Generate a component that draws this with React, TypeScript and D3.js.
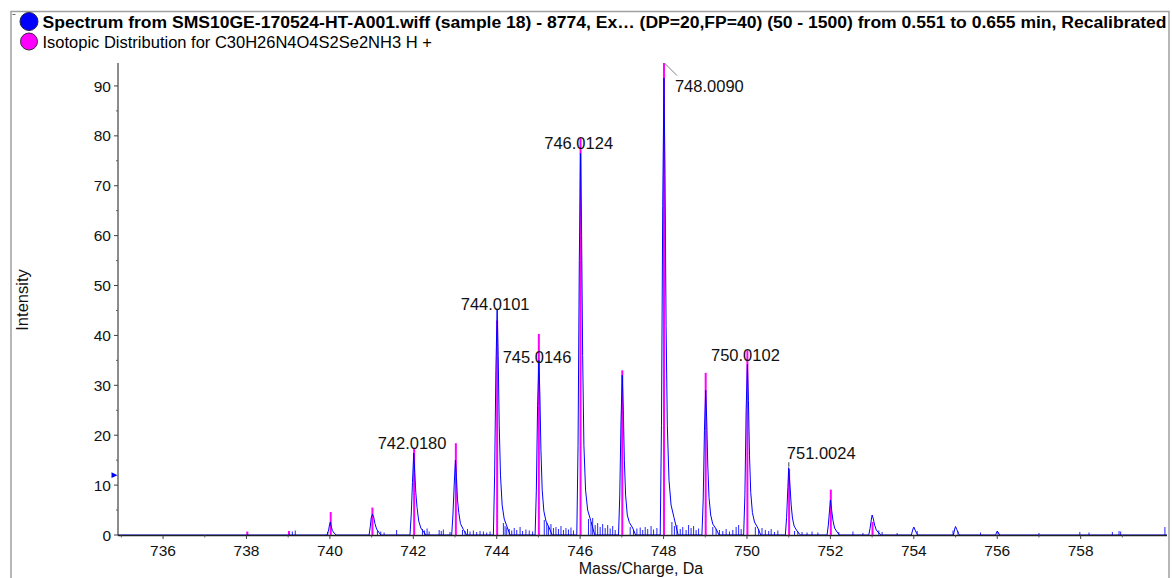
import React, { useEffect } from 'react';
import * as d3 from 'd3';

const W = 1172;
const H = 578;

// ---------- data ----------
const legendLabels = [
  'Spectrum from SMS10GE-170524-HT-A001.wiff (sample 18) - 8774, Ex… (DP=20,FP=40) (50 - 1500) from 0.551 to 0.655 min, Recalibrated',
  'Isotopic Distribution for C30H26N4O4S2Se2NH3 H +',
];
const seriesColors = ['#0000ff', '#ff00ff'];

const xDomain = [734.92, 760.07];
const yMaxValue = 94.6;

const xTicksMajor = [736, 738, 740, 742, 744, 746, 748, 750, 752, 754, 756, 758];
const xTicksMinor = [735, 737, 739, 741, 743, 745, 747, 749, 751, 753, 755, 757, 759];
const yTicksMajor = [0, 10, 20, 30, 40, 50, 60, 70, 80, 90];
const yTicksMinor = [5, 15, 25, 35, 45, 55, 65, 75, 85];

const xTitle = 'Mass/Charge, Da';
const yTitle = 'Intensity';
const thresholdMarker = 12;

// measured spectrum profile [m/z, intensity]
const spectrumProfile: [number, number][] = [
  [734.92, 0],
  [739.93, 0], [739.97, 1.0], [739.99, 2.0], [740.01, 2.6], [740.03, 1.8], [740.06, 0.9], [740.1, 0.4], [740.15, 0],
  [740.94, 0], [740.97, 1.8], [740.99, 3.4], [741.02, 4.2], [741.05, 3.6], [741.08, 2.3], [741.12, 1.2], [741.17, 0.6], [741.22, 0],
  [741.92, 0], [741.95, 4], [741.98, 10.5], [742.01, 16.4], [742.035, 12.5], [742.06, 8.5], [742.09, 5.5], [742.13, 2.8], [742.18, 1.4], [742.25, 0.6], [742.3, 0],
  [742.92, 0], [742.95, 4], [742.98, 10], [743.01, 15], [743.035, 11.5], [743.06, 7], [743.09, 4.5], [743.13, 2.3], [743.2, 1.1], [743.28, 0],
  [743.92, 0], [743.95, 12], [743.98, 33], [744.01, 45.2], [744.035, 36], [744.06, 22], [744.09, 12], [744.13, 6], [744.18, 3.2], [744.25, 1.6], [744.32, 0],
  [744.92, 0], [744.95, 9], [744.98, 26], [745.01, 35], [745.035, 28], [745.06, 17], [745.09, 9], [745.13, 4.8], [745.18, 2.8], [745.25, 1.6], [745.33, 0],
  [745.92, 0], [745.95, 18], [745.98, 55], [746.01, 76.5], [746.035, 60], [746.06, 36], [746.09, 18], [746.13, 9], [746.18, 5], [746.25, 3], [746.35, 0],
  [746.92, 0], [746.95, 8], [746.98, 23], [747.01, 32], [747.035, 25], [747.06, 15], [747.09, 8], [747.13, 4], [747.18, 2.5], [747.26, 1.4], [747.33, 0],
  [747.92, 0], [747.95, 22], [747.98, 66], [748.01, 91.6], [748.035, 72], [748.06, 42], [748.09, 22], [748.13, 11], [748.18, 6], [748.25, 3.5], [748.35, 0],
  [748.92, 0], [748.95, 7], [748.98, 21], [749.01, 29], [749.035, 23], [749.06, 14], [749.09, 7.5], [749.13, 4], [749.18, 2.2], [749.26, 1.2], [749.33, 0],
  [749.92, 0], [749.95, 8], [749.98, 25], [750.01, 34.2], [750.035, 27], [750.06, 16], [750.09, 8.5], [750.13, 4.5], [750.18, 2.6], [750.26, 1.4], [750.33, 0],
  [750.92, 0], [750.95, 3.5], [750.98, 9.5], [751.0, 13.5], [751.03, 10], [751.06, 6], [751.09, 3.4], [751.13, 1.8], [751.2, 0.8], [751.28, 0],
  [751.92, 0], [751.95, 2], [751.98, 5], [752.0, 7], [752.03, 5], [752.06, 3], [752.1, 1.4], [752.16, 0.6], [752.22, 0],
  [752.92, 0], [752.95, 1.3], [752.98, 3], [753.0, 4], [753.03, 3.2], [753.06, 2.0], [753.1, 1.0], [753.16, 0.4], [753.22, 0],
  [753.94, 0], [753.98, 1.2], [754.0, 1.6], [754.03, 1.0], [754.07, 0.3], [754.1, 0],
  [754.95, 0], [754.98, 1.2], [755.0, 1.7], [755.03, 1.1], [755.07, 0.3], [755.1, 0],
  [755.96, 0], [756.0, 0.8], [756.04, 0.2], [756.07, 0],
  [760.07, 0],
];

// small noise spikes in the measured spectrum [m/z, intensity]
const spectrumNoise: [number, number][] = [
  [739.10, 0.7], [739.17, 0.9], [739.95, 0.6],
  [741.14, 0.9], [741.22, 0.7], [741.30, 0.5], [741.60, 1.0],
  [742.22, 1.2], [742.27, 0.9], [742.33, 1.3], [742.38, 0.7], [742.62, 1.0], [742.67, 0.8], [742.72, 1.1], [742.88, 0.6],
  [743.18, 1.0], [743.24, 0.8], [743.30, 1.2], [743.36, 0.7], [743.44, 0.9], [743.52, 0.6], [743.60, 0.8], [743.68, 0.7], [743.76, 0.5], [743.84, 0.7],
  [744.16, 2.4], [744.20, 1.8], [744.24, 1.5], [744.30, 1.2], [744.36, 0.9], [744.42, 1.4], [744.48, 1.0], [744.56, 1.6], [744.62, 0.8], [744.70, 1.1], [744.78, 0.9], [744.86, 0.7],
  [745.14, 3.0], [745.20, 2.4], [745.24, 1.8], [745.30, 2.2], [745.36, 1.4], [745.42, 1.6], [745.48, 1.2], [745.54, 1.8], [745.60, 1.0], [745.66, 1.4], [745.72, 1.1], [745.78, 1.5], [745.84, 0.9],
  [746.20, 3.2], [746.26, 2.6], [746.30, 3.4], [746.36, 2.0], [746.42, 2.4], [746.48, 1.6], [746.54, 2.2], [746.60, 1.4], [746.66, 2.0], [746.72, 1.3], [746.78, 1.8], [746.84, 1.0],
  [747.20, 1.6], [747.28, 1.0], [747.36, 1.3], [747.44, 1.5], [747.50, 1.0], [747.56, 1.6], [747.62, 1.2], [747.70, 1.8], [747.76, 1.1], [747.84, 1.4],
  [748.20, 2.6], [748.26, 1.8], [748.32, 2.0], [748.40, 1.2], [748.46, 1.6], [748.54, 1.0], [748.60, 2.0], [748.66, 1.4], [748.72, 1.8], [748.78, 1.0], [748.84, 1.3],
  [749.18, 1.6], [749.26, 1.2], [749.34, 1.0], [749.42, 0.8], [749.50, 1.2], [749.58, 0.7], [749.66, 1.0], [749.74, 1.6], [749.80, 2.0], [749.86, 1.2],
  [750.20, 1.6], [750.28, 1.2], [750.36, 1.4], [750.44, 1.0], [750.52, 0.8], [750.58, 1.2], [750.66, 0.6], [750.74, 0.9],
  [751.14, 0.8], [751.22, 0.7], [751.32, 0.6], [751.44, 0.5], [751.56, 0.7], [751.70, 0.5],
  [752.20, 0.6], [752.54, 0.7], [752.78, 0.4],
  [753.16, 0.9], [753.24, 0.6], [753.60, 0.4],
  [754.08, 0.8], [754.94, 0.9], [755.06, 0.7], [755.60, 0.5], [756.02, 0.6], [757.00, 0.4],
  [757.98, 0.6], [758.20, 0.5], [758.76, 0.6], [758.92, 0.8], [758.96, 0.7], [760.02, 1.6],
];

// theoretical isotopic distribution
const isotopeMz = [738.02, 739.02, 740.02, 741.02, 742.02, 743.02, 744.01, 745.01, 746.01, 747.01, 748.01, 749.01, 750.01, 751.01, 752.01, 753.01];
const isotopeIntensity = [0.7, 0.8, 4.6, 5.5, 17.4, 18.4, 43, 40.3, 79.5, 33, 94.6, 32.5, 37, 13.2, 9.1, 2.6];

// peak annotations
const peakLabelText = ['742.0180', '744.0101', '745.0146', '746.0124', '748.0090', '750.0102', '751.0024'];
const peakLabelMz = [742.018, 744.0101, 745.0146, 746.0124, 748.009, 750.0102, 751.0024];
const peakLabelIntensity = [16.4, 45.2, 35, 76.5, 94.6, 34.2, 13.5];

// ---------- chart ----------
const FONT = 'Liberation Sans, Arial, Helvetica, sans-serif';

export default function App() {
  useEffect(() => {
    document.body.style.margin = '0';
    document.body.style.overflow = 'hidden';
  }, []);

  const plotLeft = 118;
  const plotRight = 1167;
  const plotTop = 63;
  const plotBottom = 535;

  const x = d3.scaleLinear().domain(xDomain).range([plotLeft, plotRight]);
  const y = d3.scaleLinear().domain([0, yMaxValue]).range([plotBottom, plotTop]);

  const profilePath = d3
    .line<[number, number]>()
    .x((d) => x(d[0]))
    .y((d) => y(d[1]))(spectrumProfile) as string;

  // label placement (style, not data)
  const labelLayout = [
    { dx: -2, dy: -4, anchor: 'middle', leader: 'none' },
    { dx: -2, dy: 0.5, anchor: 'middle', leader: 'none' },
    { dx: -2, dy: 3, anchor: 'middle', leader: 'none' },
    { dx: -2, dy: -4, anchor: 'middle', leader: 'none' },
    { dx: 11, dy: 29, anchor: 'start', leader: 'diag' },
    { dx: -2, dy: -3, anchor: 'middle', leader: 'none' },
    { dx: -2, dy: -8.6, anchor: 'start', leader: 'tick' },
  ];

  return (
    <svg
      width={W}
      height={H}
      viewBox={`0 0 ${W} ${H}`}
      style={{ position: 'absolute', left: 0, top: 0, display: 'block', background: '#fff' }}
      fontFamily={FONT}
    >
      <defs>
        <clipPath id="plotClip">
          <rect x={plotLeft} y={plotTop - 2} width={plotRight - plotLeft + 2} height={plotBottom - plotTop + 2} />
        </clipPath>
      </defs>
      <rect x={0} y={0} width={W} height={H} fill="#fff" />

      {/* frame */}
      <path d={`M11,${H} L11,11.5 L1169,11.5 L1169,${H}`} fill="none" stroke="#a0a0a0" strokeWidth={1.5} />
      <line x1={12.5} x2={15.5} y1={14.5} y2={14.5} stroke="#666" strokeWidth={1} />

      {/* legend */}
      <circle cx={29} cy={21.5} r={9} fill={seriesColors[0]} stroke="#202040" strokeWidth={1} />
      <circle cx={29} cy={41.5} r={8.5} fill={seriesColors[1]} stroke="#402040" strokeWidth={1} />
      <text x={42.5} y={27.5} fontSize={16} fontWeight="bold" fill="#000" textLength={1124} lengthAdjust="spacingAndGlyphs">
        {legendLabels[0]}
      </text>
      <text x={42.5} y={47.5} fontSize={16.5} fill="#000">
        {legendLabels[1]}
      </text>

      {/* data */}
      <g clipPath="url(#plotClip)">
        {isotopeMz.map((m, i) => (
          <line
            key={`iso${i}`}
            x1={x(m)}
            x2={x(m)}
            y1={y(0)}
            y2={y(isotopeIntensity[i])}
            stroke={seriesColors[1]}
            strokeWidth={2}
          />
        ))}
        <path d={profilePath} fill="none" stroke={seriesColors[0]} strokeWidth={1} strokeLinejoin="round" />
        {spectrumNoise.map((d, i) => (
          <line
            key={`n${i}`}
            x1={x(d[0])}
            x2={x(d[0])}
            y1={y(0)}
            y2={y(d[1])}
            stroke={seriesColors[0]}
            strokeWidth={1}
            opacity={0.85}
          />
        ))}
      </g>

      {/* peak labels */}
      {peakLabelText.map((t, i) => {
        const L = labelLayout[i];
        const px = x(peakLabelMz[i]);
        const py = y(peakLabelIntensity[i]);
        return (
          <g key={`lab${i}`}>
            {L.leader === 'diag' && (
              <line x1={px + 0.5} y1={py} x2={px + 13} y2={py + 12.5} stroke="#808080" strokeWidth={1} />
            )}
            {L.leader === 'tick' && (
              <line x1={px} y1={py - 5.5} x2={px} y2={py - 1} stroke="#606060" strokeWidth={1.2} />
            )}
            <text x={px + L.dx} y={py + L.dy} fontSize={16.5} textAnchor={L.anchor as any} fill="#111">
              {t}
            </text>
          </g>
        );
      })}

      {/* y axis */}
      <line x1={plotLeft} x2={plotLeft} y1={plotTop} y2={plotBottom + 0.5} stroke="#404040" strokeWidth={1.2} />
      {yTicksMajor.map((v) => (
        <g key={`yt${v}`}>
          <line x1={plotLeft - 4} x2={plotLeft} y1={y(v)} y2={y(v)} stroke="#404040" strokeWidth={1} />
          <text x={111} y={y(v)} dy="0.36em" fontSize={15.5} textAnchor="end" fill="#111">
            {v}
          </text>
        </g>
      ))}
      {yTicksMinor.map((v) => (
        <line key={`ym${v}`} x1={plotLeft - 2} x2={plotLeft} y1={y(v)} y2={y(v)} stroke="#606060" strokeWidth={1} />
      ))}
      <path
        d={`M${plotLeft - 6.5},${y(thresholdMarker) - 2.8} L${plotLeft - 0.5},${y(thresholdMarker)} L${plotLeft - 6.5},${y(thresholdMarker) + 2.8} Z`}
        fill={seriesColors[0]}
      />

      {/* x axis */}
      <line x1={plotLeft} x2={plotRight} y1={plotBottom + 0.5} y2={plotBottom + 0.5} stroke="#202020" strokeWidth={1.5} />
      {xTicksMajor.map((v) => (
        <g key={`xt${v}`}>
          <line x1={x(v)} x2={x(v)} y1={plotBottom + 0.5} y2={plotBottom + 4} stroke="#404040" strokeWidth={1} />
          <text x={x(v)} y={556} fontSize={15.5} textAnchor="middle" fill="#111">
            {v}
          </text>
        </g>
      ))}
      {xTicksMinor.map((v) => (
        <line key={`xm${v}`} x1={x(v)} x2={x(v)} y1={plotBottom + 0.5} y2={plotBottom + 2.5} stroke="#606060" strokeWidth={1} />
      ))}

      {/* axis titles */}
      <text x={641} y={574} fontSize={16} textAnchor="middle" fill="#111">
        {xTitle}
      </text>
      <text transform="translate(28,300) rotate(-90)" fontSize={16.5} textAnchor="middle" fill="#111">
        {yTitle}
      </text>
    </svg>
  );
}
